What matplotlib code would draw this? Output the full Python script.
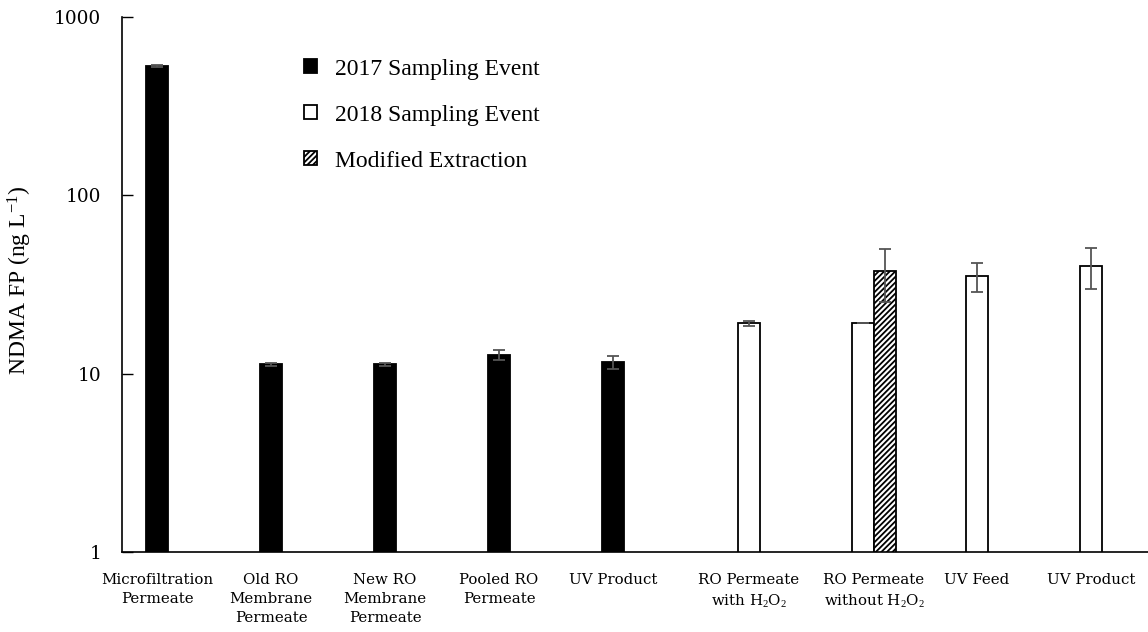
import numpy as np
import matplotlib.pyplot as plt

plt.rcParams['font.family'] = ['Liberation Serif', 'DejaVu Serif']
plt.rcParams['mathtext.fontset'] = 'custom'
plt.rcParams['mathtext.rm'] = 'Liberation Serif'
plt.rcParams['mathtext.it'] = 'Liberation Serif:italic'
plt.rcParams['hatch.linewidth'] = 1.3

# sample locations
labels = ["Microfiltration\nPermeate", "Old RO\nMembrane\nPermeate", "New RO\nMembrane\nPermeate",
          "Pooled RO\nPermeate", "UV Product", "RO Permeate\nwith H$_2$O$_2$",
          "RO Permeate\nwithout H$_2$O$_2$", "UV Feed", "UV Product"]

# NDMA FP (ng/L), NaN where a sample was not taken
fp_2017 = [530, 11.3, 11.3, 12.7, 11.6, np.nan, np.nan, np.nan, np.nan]
err_2017 = [8, 0.2, 0.2, 0.8, 1.0, 0, 0, 0, 0]
fp_2018 = [np.nan, np.nan, np.nan, np.nan, np.nan, 19.2, 19.2, 35.3, 40.2]
err_2018 = [0, 0, 0, 0, 0, 0.6, 0, 6.5, 10.5]
fp_mod = [np.nan, np.nan, np.nan, np.nan, np.nan, np.nan, 37.6, np.nan, np.nan]
err_mod = [0, 0, 0, 0, 0, 0, 12.5, 0, 0]

x = np.arange(len(labels))
w = 0.193

fig = plt.figure(figsize=(11.48, 6.32), dpi=100)
ax = fig.add_axes([0.1063, 0.1266, 0.8937, 0.8465])

ekw = dict(ecolor='#555555', elinewidth=1.3, capsize=4, capthick=1.3)
ax.bar(x - w, fp_2017, w, yerr=err_2017, color='black', edgecolor='black',
       linewidth=1.3, label='2017 Sampling Event', error_kw=ekw)
ax.bar(x, fp_2018, w, yerr=err_2018, color='white', edgecolor='black',
       linewidth=1.3, label='2018 Sampling Event', error_kw=ekw)
ax.bar(x + w, fp_mod, w, yerr=err_mod, color='white', edgecolor='black', hatch='//////',
       linewidth=1.3, label='Modified Extraction', error_kw=ekw)

ax.set_yscale('log')
ax.set_ylim(1, 1000)
ax.set_xlim(-0.5, len(labels) - 0.5)
ax.set_yticks([1, 10, 100, 1000])
ax.set_yticklabels(['1', '10', '100', '1000'], family='DejaVu Serif', fontsize=13.3)
ax.minorticks_off()
ax.tick_params(axis='y', direction='in', length=8, width=1, pad=15)

# label each group under the bars it belongs to
tick_pos = [x[0] - w, x[1] - w, x[2] - w, x[3] - w, x[4] - w, x[5], x[6] + w / 2, x[7], x[8]]
ax.set_xticks(tick_pos)
ax.set_xticklabels(labels, family=['DejaVu Serif'], fontsize=10.8, linespacing=1.45, va='top')
ax.tick_params(axis='x', length=0, pad=15)

for s in ['top', 'right']:
    ax.spines[s].set_visible(False)
for s in ['left', 'bottom']:
    ax.spines[s].set_linewidth(1.2)

ax.set_ylabel('NDMA FP (ng L$^{-1}$)', fontsize=17)
ax.yaxis.set_label_coords(-0.086, 0.507)

ax.legend(loc='upper left', bbox_to_anchor=(0.157, 0.962), frameon=False, fontsize=17,
          handlelength=0.55, handleheight=0.55, handletextpad=0.76, labelspacing=1.06)

fig.savefig('out.png', dpi=100)
